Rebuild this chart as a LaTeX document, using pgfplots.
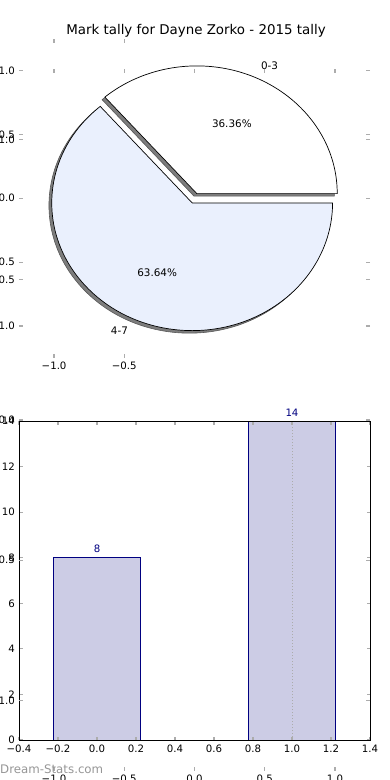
\documentclass[border=0pt]{standalone}
\usepackage{pgfplots}
\pgfplotsset{compat=1.18}
\usepackage{fontspec}
\setmainfont{DejaVu Sans}
\definecolor{barfill}{RGB}{204,204,229}
\definecolor{navy}{RGB}{0,0,128}
\definecolor{tickgray}{RGB}{172,172,172}
\definecolor{pieblue}{RGB}{234,240,253}
\definecolor{shadowc}{RGB}{125,125,125}
\definecolor{wmgray}{RGB}{150,150,150}
\newcommand{\tfont}{\fontsize{10.2}{12}\selectfont}
\newcommand{\pfont}{\fontsize{10.4}{12}\selectfont}
% pie data: tallies of marks
\def\vA{8}
\def\vB{14}
\pgfmathsetmacro{\angA}{360*\vA/(\vA+\vB)}
\pgfplotsset{
  mpl/.style={
    scale only axis, anchor=north west,
    tick align=inside, major tick length=3.5pt,
    tick style={tickgray, line width=1.2pt},
    tick label style={font=\tfont},
    xticklabel style={inner sep=0pt, yshift=-4.5pt},
    yticklabel style={inner sep=0pt, xshift=-4pt},
    axis line style={draw=none},
    minor tick num=0,
  },
}
\begin{document}
\begin{tikzpicture}
\useasboundingbox (0pt,0pt) rectangle (390pt,-780pt);
\clip (0pt,0pt) rectangle (390pt,-780pt);
\node[font=\fontsize{13.4}{15}\selectfont] at (196pt,-30.7pt) {Mark tally for Dayne Zorko - 2015 tally};

% ---------- pie axes ----------
\begin{axis}[mpl, at={(19pt,-39pt)}, width=351pt, height=318.5pt,
  xmin=-1.25, xmax=1.25, ymin=-1.247, ymax=1.247,
  xtick={-1,-0.5}, xticklabels={−1.0,−0.5},
  ytick={-1,-0.5,0,0.5,1}, yticklabels={−1.0,−0.5,0.0,0.5,1.0},
  clip=false]
\addplot[draw=none] coordinates {(0,0)};
% shadows
\filldraw[fill=shadowc, draw=shadowc!70!black, line width=0.6pt] (axis cs:-0.0034,0.0164) -- ++(0:140.4pt and 127.7pt)
  arc[start angle=0, end angle=\angA, x radius=140.4pt, y radius=127.7pt] -- cycle;
\filldraw[fill=shadowc, draw=shadowc!70!black, line width=0.6pt] (axis cs:-0.0366,-0.0564) -- ++(\angA:140.4pt and 127.7pt)
  arc[start angle=\angA, end angle=360, x radius=140.4pt, y radius=127.7pt] -- cycle;
% wedges
\filldraw[fill=white, draw=black, line width=0.7pt] (axis cs:0.0166,0.0364) -- ++(0:140.4pt and 127.7pt)
  arc[start angle=0, end angle=\angA, x radius=140.4pt, y radius=127.7pt] -- cycle;
\filldraw[fill=pieblue, draw=black, line width=0.7pt] (axis cs:-0.0166,-0.0364) -- ++(\angA:140.4pt and 127.7pt)
  arc[start angle=\angA, end angle=360, x radius=140.4pt, y radius=127.7pt] -- cycle;
% labels
\node[anchor=west, font=\pfont, inner sep=0pt] at (axis cs:0.473,1.037) {0-3};
\node[anchor=east, font=\pfont, inner sep=0pt] at (axis cs:-0.473,-1.037) {4-7};
\node[font=\pfont, inner sep=0pt] at (axis cs:0.266,0.582) {36.36\%};
\node[font=\pfont, inner sep=0pt] at (axis cs:-0.266,-0.582) {63.64\%};
\end{axis}

% ---------- bar axes ----------
\begin{axis}[mpl, at={(19pt,-421pt)}, width=351pt, height=319pt,
  xmin=-0.4, xmax=1.4, ymin=0, ymax=14,
  xtick={-0.4,-0.2,0,0.2,0.4,0.6,0.8,1,1.2,1.4},
  xticklabels={−0.4,−0.2,0.0,0.2,0.4,0.6,0.8,1.0,1.2,1.4},
  ytick={0,2,4,6,8,10,12,14}, yticklabels={0,2,4,6,8,10,12,14},
  axis line style={draw=black, line width=0.8pt},
  axis on top, clip=false]
\addplot[ybar, bar width=0.45, fill=barfill, draw=navy, line width=1pt,
  nodes near coords, nodes near coords style={text=navy, font=\tfont, inner sep=0pt, yshift=4.5pt},
  point meta=explicit symbolic]
  coordinates {(0,8) [8] (1,14) [14]};
\addplot[tickgray, dotted, line width=1pt] coordinates {(1,0) (1,14)};
\end{axis}

% ---------- full-figure axes ----------
\begin{axis}[mpl, at={(19pt,-69.2pt)}, width=351pt, height=701.5pt,
  xmin=-1.25, xmax=1.25, ymin=-1.25, ymax=1.25,
  xtick={-1,-0.5,0,0.5,1}, xticklabels={−1.0,−0.5,0.0,0.5,1.0},
  ytick={-1,-0.5,0,0.5,1}, yticklabels={−1.0,−0.5,0.0,0.5,1.0}]
\addplot[draw=none] coordinates {(0,0)};
\end{axis}

\node[anchor=west, text=wmgray, font=\fontsize{11.8}{14}\selectfont, inner sep=0pt] at (0pt,-769pt) {Dream-Stats.com};
\end{tikzpicture}
\end{document}
